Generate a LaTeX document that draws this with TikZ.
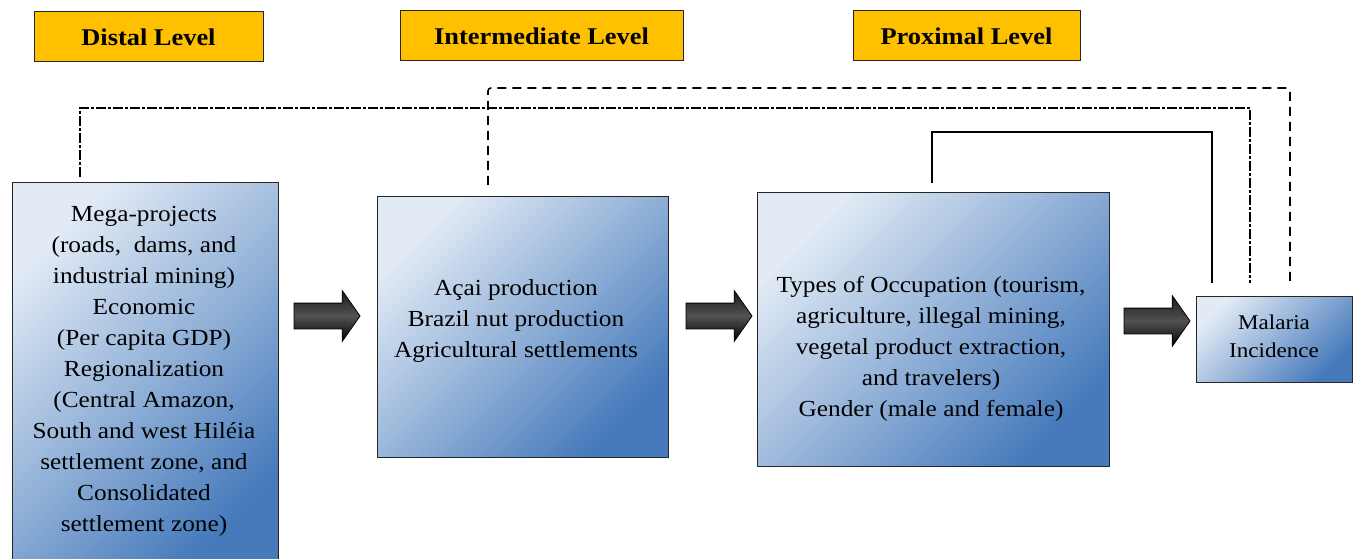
\documentclass[tikz,border=0pt]{standalone}
\usepackage{fontspec}
\setmainfont{Liberation Serif}
\newfontfamily\tnr[FakeStretch=1.1]{Liberation Serif}
\usetikzlibrary{shapes.arrows}
\definecolor{hdr}{RGB}{255,192,0}
\definecolor{lightb}{RGB}{225,234,245}
\definecolor{darkb}{RGB}{70,122,187}
\begin{document}
\begin{tikzpicture}[x=1pt,y=-1pt,
  hdrbox/.style={draw=black!85, fill=hdr, line width=1pt, inner sep=0pt,
    font=\tnr\fontsize{24}{28}\selectfont\bfseries},
  gbox/.style={draw=black!85, line width=1pt, inner sep=0pt,
    top color=lightb, bottom color=darkb, shading angle=45},
  txt/.style={align=center, inner sep=0pt, font=\tnr\fontsize{23}{31}\selectfont},
  blockarrow/.style={single arrow, draw=black, line width=0.8pt,
    minimum height=66pt, minimum width=50pt, single arrow head extend=12.5pt,
    single arrow tip angle=110, inner xsep=0pt, inner ysep=12.5pt,
    top color=black!90, bottom color=black, middle color=black!68},
  ddline/.style={line width=1.7pt, dash pattern=on 10pt off 2pt on 3pt off 2pt},
  dline/.style={line width=1.6pt, dash pattern=on 9pt off 6pt, rounded corners=3pt},
  sline/.style={line width=1.2pt}
]
\useasboundingbox (0,0) rectangle (1358,559);
\clip (0,0) rectangle (1358,559);

% headers
\node[hdrbox, minimum width=229pt, minimum height=50pt] (hd) at (148.5,37) {Distal Level};
\node[hdrbox, minimum width=283pt, minimum height=50pt] (hi) at (541.5,36) {Intermediate Level};
\node[hdrbox, minimum width=227pt, minimum height=50pt] (hp) at (966.5,36) {Proximal Level};

% boxes
\node[gbox, minimum width=266pt, minimum height=387pt] (d) at (145,376.5) {};
\node[gbox, minimum width=291pt, minimum height=261pt] (i) at (522.5,326.5) {};
\node[gbox, minimum width=352pt, minimum height=273pt] (p) at (933,329.5) {};
\node[gbox, minimum width=156pt, minimum height=86pt] (m) at (1274,339) {};

% texts
\node[txt] (dt) at (144,371) {Mega-projects\\(roads,\ \ dams, and\\industrial mining)\\Economic\\(Per capita GDP)\\Regionalization\\(Central Amazon,\\South and west Hiléia\\settlement zone, and\\Consolidated\\settlement zone)};
\node[txt] (it) at (516,321) {Açai production\\Brazil nut production\\Agricultural settlements};
\node[txt] (pt) at (931,349) {Types of Occupation (tourism,\\agriculture, illegal mining,\\vegetal product extraction,\\and travelers)\\Gender (male and female)};
\node[txt, font=\tnr\fontsize{21}{28}\selectfont] (mt) at (1274,336.5) {Malaria\\Incidence};

% block arrows
\node[blockarrow] (a1) at (322.5,316) {};
\node[blockarrow] (a2) at (714.5,316) {};
\node[blockarrow] (a3) at (1152.5,321) {};

% feedback connectors
\coordinate (ds) at (80,177);
\coordinate (is) at (488,185);
\coordinate (ps) at (932,183);
\coordinate (me1) at (1212,283);
\coordinate (me2) at (1250,283);
\coordinate (me3) at (1290,283);
\draw[ddline] (ds) -- (80,108) -| (me2);
\draw[dline] (is) -- (488,88) -| (me3);
\draw[sline] (ps) -- (932,132) -| (me1);
\end{tikzpicture}
\end{document}
